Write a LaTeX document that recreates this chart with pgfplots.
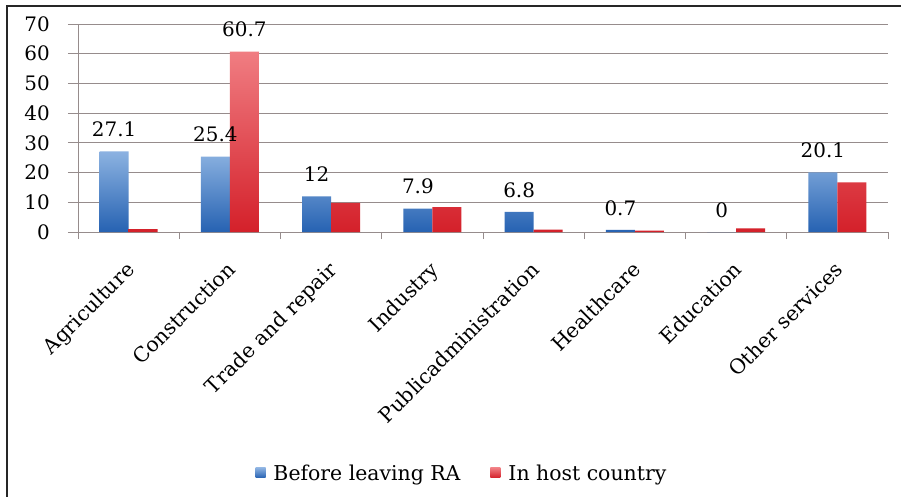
\documentclass[border=0pt]{standalone}
\usepackage{fontspec}
\setmainfont{DejaVu Serif}
\usepackage{pgfplots}
\pgfplotsset{compat=1.18}

\definecolor{gridc}{RGB}{150,140,140}
\definecolor{blueTop}{RGB}{140,178,225}
\definecolor{blueBot}{RGB}{38,98,178}
\definecolor{redTop}{RGB}{240,125,130}
\definecolor{redBot}{RGB}{212,32,42}

\begin{document}
\begin{tikzpicture}
\fill[white] (-78bp,-265bp) rectangle (823bp,232bp);
\useasboundingbox (-78bp,-265bp) rectangle (823bp,232bp);
\begin{axis}[
    at={(0,0)}, anchor=south west,
    scale only axis,
    width=810bp, height=208bp,
    ybar=0pt, bar width=29bp,
    xmin=-0.5, xmax=7.5,
    ymin=0, ymax=70,
    ytick={0,10,...,70},
    xtick={0,...,7},
    xticklabels={Agriculture,Construction,Trade and repair,Industry,Publicadministration,Healthcare,Education,Other services},
    minor xtick={-0.5,0.5,...,7.5},
    axis lines*=left,
    axis line style={gridc, line width=0.8pt},
    ymajorgrids, grid style={gridc, line width=0.8pt},
    tick align=outside,
    major tick length=10bp, minor tick length=7bp,
    xtick style={draw=none},
    minor x tick style={gridc, line width=0.8pt, draw=gridc},
    ytick style={gridc, line width=0.8pt},
    /pgf/number format/assume math mode=true,
    every y tick label/.append style={font=\fontsize{20}{22}\selectfont, anchor=east, inner xsep=0pt, xshift=-18bp},
    xticklabel style={font=\fontsize{20.5}{22}\selectfont, yshift=-18bp, xshift=-4bp, rotate=45, anchor=north east, inner sep=0pt},
    nodes near coords,
    point meta=explicit symbolic,
    nodes near coords style={anchor=center, yshift=22bp, font=\fontsize{20}{22}\selectfont},
    legend columns=2,
    legend style={at={(0.474,-1.163)}, anchor=center, draw=none, fill=none,
        font=\fontsize{20.5}{22}\selectfont,
        /tikz/every odd column/.append style={column sep=6bp},
        /tikz/every even column/.append style={column sep=28bp}},
    legend image code/.code={\path[#1, draw=none] (0bp,-4bp) rectangle (10bp,6bp);},
]
\addplot[draw=none, top color=blueTop, bottom color=blueBot] coordinates {
    (0,27.1) [27.1]
    (1,25.4) [25.4]
    (2,12)   [12]
    (3,7.9)  [7.9]
    (4,6.8)  [6.8]
    (5,0.7)  [0.7]
    (6,0)    [0]
    (7,20.1) [20.1]
};
\addplot[draw=none, top color=redTop, bottom color=redBot] coordinates {
    (0,1.0)  [\relax]
    (1,60.7) [60.7]
    (2,9.8)  [\relax]
    (3,8.4)  [\relax]
    (4,0.8)  [\relax]
    (5,0.5)  [\relax]
    (6,1.2)  [\relax]
    (7,16.7) [\relax]
};
\legend{Before leaving RA, In host country}
\end{axis}
\draw[black!85, line width=1.4pt] (-71bp,-265bp) -- (-71bp,226bp) -- (823bp,226bp);
\end{tikzpicture}
\end{document}
